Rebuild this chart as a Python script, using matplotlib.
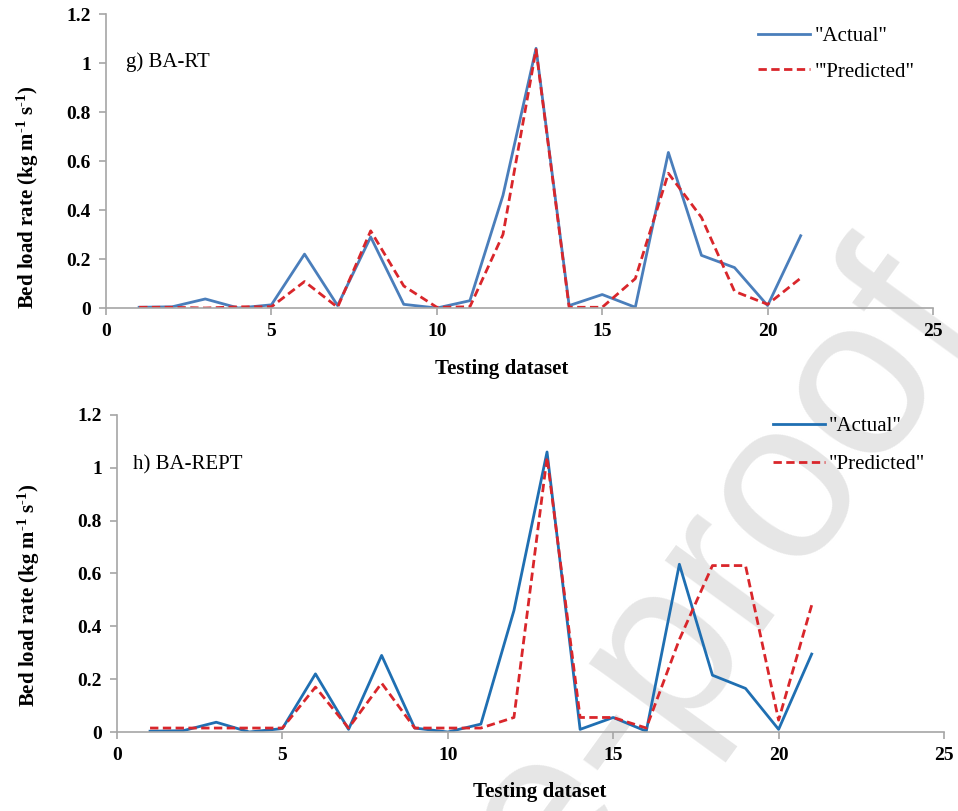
import numpy as np
import matplotlib
matplotlib.use('Agg')
import matplotlib.pyplot as plt
from matplotlib.ticker import FuncFormatter, MultipleLocator

plt.rcParams['font.family'] = 'Liberation Serif'
plt.rcParams['mathtext.fontset'] = 'custom'
plt.rcParams['mathtext.rm'] = 'Liberation Serif:bold'
plt.rcParams['mathtext.default'] = 'rm'

# Testing dataset index
amostras = list(range(1, 22))

# Observed bed load (same in both panels)
real = [0.003, 0.005, 0.037, 0.0, 0.013, 0.22, 0.01, 0.29, 0.015, 0.0, 0.03,
        0.46, 1.06, 0.01, 0.055, 0.003, 0.635, 0.215, 0.165, 0.01, 0.295]

# BA-RT predictions
prev_rt = [0.003, 0.003, 0.0, 0.005, 0.005, 0.108, 0.003, 0.315, 0.09, 0.003, 0.005,
           0.30, 1.055, 0.003, 0.003, 0.12, 0.55, 0.37, 0.068, 0.015, 0.122]

# BA-REPT predictions
prev_rept = [0.015, 0.015, 0.015, 0.015, 0.015, 0.17, 0.015, 0.185, 0.015, 0.015, 0.015,
             0.055, 1.04, 0.055, 0.055, 0.015, 0.35, 0.63, 0.63, 0.045, 0.48]

rotulo_y = r'Bed load rate (kg m$^{\text{-1}}$ s$^{\text{-1}}$)'

fig = plt.figure(figsize=(9.58, 8.11), dpi=100)

# watermark behind the plots
fig.text(1.03, 0.60, 'Journal Pre-proof', fontsize=165, family='Liberation Sans',
         color='#e6e6e6', rotation=54, ha='right', va='baseline', zorder=-10,
         rotation_mode='anchor')

paineis = [
    dict(pos=[0.1107, 0.6202, 0.8632, 0.3625], prev=prev_rt, cor='#4a7ebb',
         nome='g) BA-RT', nome_xy=(0.024, 0.837), leg=['"Actual"', '"\'Predicted"'],
         leg_xy=(1.0, 1.02), esp=0.75, ylab=(-0.079, 0.378), xlab=(0.479, -0.175)),
    dict(pos=[0.1221, 0.0974, 0.8633, 0.3909], prev=prev_rept, cor='#1f6fb2',
         nome='h) BA-REPT', nome_xy=(0.019, 0.842), leg=['"Actual"', '"Predicted"'],
         leg_xy=(1.0, 1.055), esp=0.9, ylab=(-0.091, 0.432), xlab=(0.511, -0.158)),
]

for p in paineis:
    ax = fig.add_axes(p['pos'])
    ax.patch.set_alpha(0)
    ax.plot(amostras, real, color=p['cor'], lw=2.0, label=p['leg'][0])
    ax.plot(amostras, p['prev'], color='#d9262b', lw=2.0, ls=(0, (3, 1.6)), label=p['leg'][1])
    ax.set_xlim(0, 25)
    ax.set_ylim(0, 1.2)
    ax.xaxis.set_major_locator(MultipleLocator(5))
    ax.yaxis.set_major_locator(MultipleLocator(0.2))
    ax.yaxis.set_major_formatter(FuncFormatter(lambda v, pos: '%g' % round(v, 1)))
    for s in ['top', 'right']:
        ax.spines[s].set_visible(False)
    for s in ['left', 'bottom']:
        ax.spines[s].set_color('#a6a6a6')
        ax.spines[s].set_linewidth(1.2)
    ax.tick_params(direction='out', length=5, width=1.2, color='#a6a6a6', labelsize=14, pad=6)
    for t in ax.get_xticklabels() + ax.get_yticklabels():
        t.set_fontweight('bold')
    ax.set_xlabel('Testing dataset', fontsize=15, fontweight='bold', va='top')
    ax.xaxis.set_label_coords(*p['xlab'])
    ax.set_ylabel(rotulo_y, fontsize=15, fontweight='bold')
    ax.yaxis.set_label_coords(*p['ylab'])
    ax.text(p['nome_xy'][0], p['nome_xy'][1], p['nome'], transform=ax.transAxes,
            fontsize=15, va='center')
    ax.legend(loc='upper right', bbox_to_anchor=p['leg_xy'], frameon=False, fontsize=15,
              handlelength=2.5, handletextpad=0.2, labelspacing=p['esp'])

fig.savefig('out.png', dpi=100)
